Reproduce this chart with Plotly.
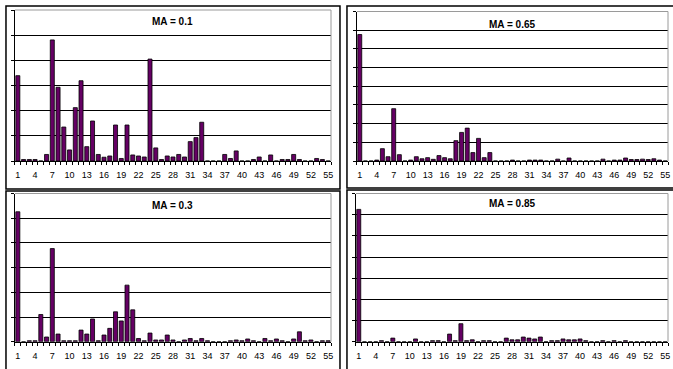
import plotly.graph_objects as go

categories = list(range(1, 56))

ma_01 = [3.39, 0.06, 0.06, 0.06, 0, 0.26, 4.81, 2.93, 1.35, 0.44,
         2.12, 3.19, 0.57, 1.59, 0.26, 0.15, 0.2, 1.43, 0.1, 1.43,
         0.24, 0.2, 0.16, 4.05, 0.52, 0.06, 0.2, 0.16, 0.26, 0.16,
         0.77, 0.93, 1.54, 0, 0, 0, 0.26, 0.1, 0.4, 0,
         0, 0.06, 0.16, 0, 0.24, 0, 0.06, 0.06, 0.26, 0.06,
         0, 0, 0.1, 0.06, 0]

ma_065 = [6.77, 0, 0, 0.05, 0.66, 0.23, 2.8, 0.34, 0, 0.05,
          0.23, 0.12, 0.18, 0.09, 0.29, 0.18, 0.12, 1.09, 1.53, 1.76,
          0.45, 1.21, 0.18, 0.45, 0, 0, 0, 0.05, 0, 0,
          0.05, 0.05, 0.05, 0, 0, 0.1, 0, 0.16, 0, 0,
          0, 0, 0, 0.1, 0, 0.05, 0.05, 0.16, 0.08, 0.08,
          0.1, 0.08, 0.12, 0.05, 0]

ma_03 = [5.26, 0, 0.04, 0.04, 1.1, 0.19, 3.77, 0.31, 0.04, 0.04,
         0.04, 0.47, 0.31, 0.92, 0.04, 0.27, 0.54, 1.21, 0.84, 2.29,
         1.29, 0.13, 0.04, 0.35, 0.07, 0.07, 0.27, 0.07, 0, 0.07,
         0.13, 0.04, 0.13, 0.04, 0, 0, 0, 0.04, 0.07, 0.04,
         0.11, 0.04, 0, 0.13, 0.04, 0.11, 0.04, 0, 0.11, 0.4,
         0.04, 0.07, 0, 0.04, 0.04]

ma_085 = [6.25, 0, 0, 0, 0.05, 0, 0.17, 0, 0, 0,
          0.13, 0, 0, 0.05, 0.05, 0, 0.36, 0.05, 0.85, 0.05,
          0.09, 0, 0.05, 0.05, 0, 0, 0.17, 0.09, 0.09, 0.22,
          0.17, 0.13, 0.22, 0, 0.05, 0.05, 0.13, 0.09, 0.09, 0.13,
          0.05, 0, 0, 0.05, 0, 0.05, 0, 0.05, 0, 0,
          0, 0, 0, 0, 0]

titles = ["MA = 0.1", "MA = 0.65", "MA = 0.3", "MA = 0.85"]
y_max = [6, 8, 6, 7]
tick_values = [c for c in categories if (c - 1) % 3 == 0]
tick_labels = [str(c) for c in tick_values]

series = [ma_01, ma_065, ma_03, ma_085]

W, H = 673, 369


def px_x(v):
    return v / W


def px_y(v):
    return 1 - v / H


# plot areas in pixels: (left, right, top, bottom)
areas = [(15, 332, 10, 161), (358, 670, 11.5, 161),
         (15, 332, 193.5, 341.7), (357, 670, 193.5, 341.7)]
title_y = [22, 24.5, 205, 203.5]
frames = [(6, 341, 6, 189), (348, 700, 6, 188),
          (6, 341, 191, 400), (348, 700, 190, 400)]

fig = go.Figure()
shapes = []
annotations = []
boundaries = [c - 0.5 for c in categories] + [categories[-1] + 0.5]

for i, vals in enumerate(series):
    k = "" if i == 0 else str(i + 1)
    fig.add_trace(go.Bar(
        x=categories, y=vals, xaxis="x" + k, yaxis="y" + k,
        marker=dict(color="#650064", line=dict(color="black", width=0.8)),
        hoverinfo="x+y",
    ))
    l, r, t, b = areas[i]
    fig.update_layout(**{
        "xaxis" + k: dict(
            domain=[px_x(l), px_x(r)], anchor="y" + k,
            range=[0.5, 55.5], tickmode="array",
            tickvals=tick_values, ticktext=tick_labels, ticks="",
            ticklabelstandoff=5,
            tickfont=dict(family="Liberation Sans, Arial", size=9, color="black"),
            showline=True, linecolor="black", linewidth=1,
            showgrid=False, zeroline=False, fixedrange=True,
            minor=dict(tickmode="array", tickvals=boundaries, ticks="outside",
                       ticklen=3, tickcolor="black", tickwidth=1, showgrid=False),
        ),
        "yaxis" + k: dict(
            domain=[px_y(b), px_y(t)], anchor="x" + k,
            range=[0, y_max[i]], dtick=1, tick0=0,
            showticklabels=False, ticks="outside", ticklen=3,
            tickcolor="black", showline=True, linecolor="black",
            linewidth=1, showgrid=True, gridcolor="black", gridwidth=1,
            zeroline=False, fixedrange=True,
        ),
    })
    # grey plot-area border (top and right)
    shapes.append(dict(type="line", xref="x" + k + " domain", yref="y" + k + " domain",
                       x0=0, x1=1, y0=1, y1=1, line=dict(color="#9a9a9a", width=1),
                       layer="above"))
    shapes.append(dict(type="line", xref="x" + k + " domain", yref="y" + k + " domain",
                       x0=1, x1=1, y0=0, y1=1, line=dict(color="#9a9a9a", width=1),
                       layer="above"))
    fl, fr, ft, fb = frames[i]
    shapes.append(dict(type="rect", xref="paper", yref="paper",
                       x0=px_x(fl), x1=px_x(fr), y0=px_y(fb), y1=px_y(ft),
                       line=dict(color="black", width=1.5), layer="above"))
    annotations.append(dict(
        text="<b>" + titles[i] + "</b>", xref="x" + k + " domain", yref="paper",
        x=0.5, y=px_y(title_y[i]), xanchor="center", yanchor="middle",
        showarrow=False,
        font=dict(family="Liberation Sans, Arial", size=10, color="black"),
    ))

fig.update_layout(
    width=W, height=H, margin=dict(l=0, r=0, t=0, b=0),
    paper_bgcolor="white", plot_bgcolor="white",
    showlegend=False, bargap=0.3,
    shapes=shapes, annotations=annotations,
)

fig.write_html("out.html",
               config={"displayModeBar": False},
               post_script="document.body.style.margin='0';"
                           "document.body.style.overflow='hidden';")
